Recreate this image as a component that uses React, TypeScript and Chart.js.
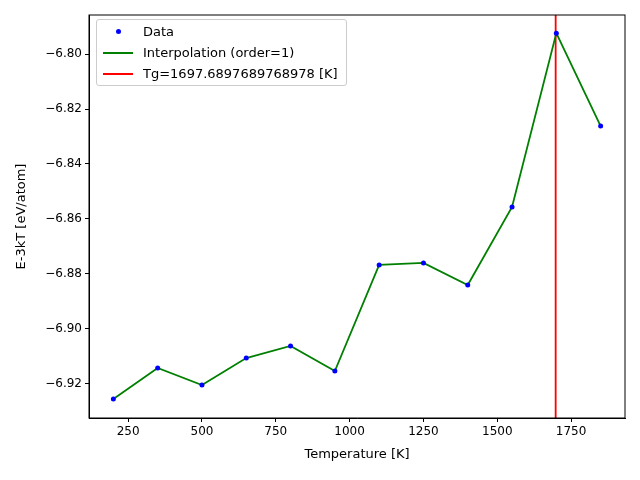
import { useEffect, useRef } from 'react';
import { Chart } from 'chart.js/auto';

const temps = [200, 350, 500, 650, 800, 950, 1100, 1250, 1400, 1550, 1700, 1850];
const energies = [-6.9255, -6.9142, -6.9204, -6.9106, -6.9062, -6.9153, -6.8767, -6.876, -6.884, -6.8556, -6.7924, -6.8262];
const tg = 1697.6897689768978;
const xTicks = [250, 500, 750, 1000, 1250, 1500, 1750];
const yTicks = [-6.92, -6.9, -6.88, -6.86, -6.84, -6.82, -6.8];
const xRange = [117.5, 1932.5];
const yRange = [-6.9324, -6.7858];
const xTitle = 'Temperature [K]';
const yTitle = 'E-3kT [eV/atom]';

// frame box plus axis titles at matplotlib-like positions
const frame = {
  id: 'frame',
  afterDraw(chart) {
    const { ctx, chartArea: a } = chart;
    ctx.save();
    ctx.strokeStyle = '#000';
    ctx.lineWidth = 1;
    ctx.strokeRect(a.left, a.top, a.right - a.left, a.bottom - a.top);
    ctx.fillStyle = '#000';
    ctx.font = '13px "DejaVu Sans"';
    ctx.textAlign = 'center';
    ctx.textBaseline = 'middle';
    ctx.fillText(xTitle, (a.left + a.right) / 2, 455);
    ctx.translate(22, (a.top + a.bottom) / 2);
    ctx.rotate(-Math.PI / 2);
    ctx.fillText(yTitle, 0, 0);
    ctx.restore();
  },
};

export default function App() {
  const ref = useRef(null);

  useEffect(() => {
    document.body.style.margin = '0';
    const pts = temps.map((t, i) => ({ x: t, y: energies[i] }));
    const font = { family: 'DejaVu Sans', size: 12 };
    const chart = new Chart(ref.current, {
      type: 'scatter',
      data: {
        datasets: [
          { label: 'Data', data: pts, pointRadius: 2.5, pointBackgroundColor: '#0000ff', pointBorderWidth: 0, showLine: false, order: 0 },
          { label: 'Interpolation (order=1)', data: pts, showLine: true, borderColor: '#008000', borderWidth: 1.8, pointRadius: 0, order: 1 },
          { label: 'Tg', data: [{ x: tg, y: yRange[0] }, { x: tg, y: yRange[1] }], showLine: true, borderColor: '#ff0000', borderWidth: 1.8, pointRadius: 0, order: 2 },
        ],
      },
      options: {
        animation: false,
        responsive: false,
        layout: { padding: { top: 15, right: 15, left: 0, bottom: 0 } },
        plugins: { legend: { display: false }, tooltip: { enabled: false } },
        scales: {
          x: {
            type: 'linear', min: xRange[0], max: xRange[1],
            afterBuildTicks: (s) => { s.ticks = xTicks.map((v) => ({ value: v })); },
            afterFit: (s) => { s.height = 62; },
            grid: { drawOnChartArea: false, tickLength: 4, color: '#000' },
            border: { color: '#000' },
            ticks: { color: '#000', font, padding: 3, maxRotation: 0, callback: (v) => String(v) },
          },
          y: {
            type: 'linear', min: yRange[0], max: yRange[1],
            afterBuildTicks: (s) => { s.ticks = yTicks.map((v) => ({ value: v })); },
            afterFit: (s) => { s.width = 89; },
            grid: { drawOnChartArea: false, tickLength: 4, color: '#000' },
            border: { color: '#000' },
            ticks: { color: '#000', font, padding: 3, callback: (v) => '\u2212' + Math.abs(v).toFixed(2) },
          },
        },
      },
      plugins: [frame],
    });
    return () => chart.destroy();
  }, []);

  const row = { display: 'flex', alignItems: 'center', height: 21 };
  const sw = { width: 30, display: 'flex', justifyContent: 'center', marginRight: 10 };
  return (
    <div style={{ position: 'relative', width: 640, height: 480, fontFamily: 'DejaVu Sans', fontSize: 13 }}>
      <canvas ref={ref} width={640} height={480} />
      <div style={{ position: 'absolute', left: 96, top: 19, border: '1px solid #ccc', borderRadius: 3, background: 'rgba(255,255,255,0.8)', padding: '1px 8px 1px 6px' }}>
        <div style={row}><div style={sw}><div style={{ width: 5, height: 5, borderRadius: 3, background: '#00f' }} /></div>Data</div>
        <div style={row}><div style={sw}><div style={{ width: 30, height: 2, background: '#008000' }} /></div>Interpolation (order=1)</div>
        <div style={row}><div style={sw}><div style={{ width: 30, height: 2, background: '#f00' }} /></div>Tg=1697.6897689768978 [K]</div>
      </div>
    </div>
  );
}
